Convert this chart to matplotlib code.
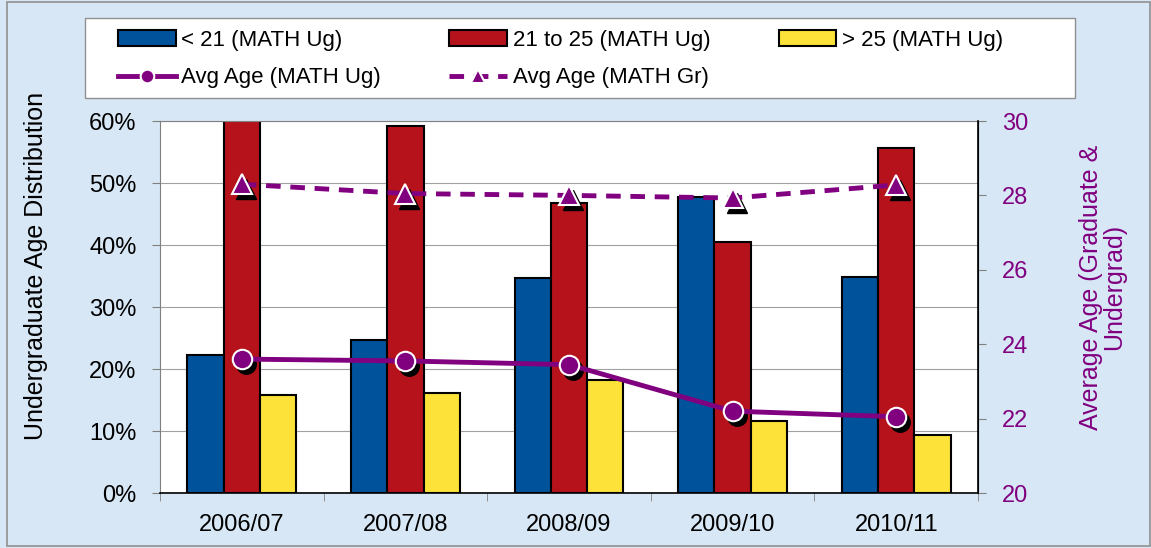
import matplotlib
matplotlib.use("Agg")
import matplotlib.pyplot as plt
import matplotlib.transforms as mtransforms
from matplotlib.patches import Rectangle
import numpy as np

plt.rcParams['font.family'] = ['Liberation Sans', 'DejaVu Sans']

years = ['2006/07', '2007/08', '2008/09', '2009/10', '2010/11']
under_21 = [22.3, 24.7, 34.7, 47.7, 34.8]
age_21_25 = [62.0, 59.2, 46.8, 40.5, 55.6]
over_25 = [15.8, 16.1, 18.2, 11.6, 9.4]
avg_ug = [23.6, 23.55, 23.45, 22.2, 22.05]
avg_gr = [28.3, 28.05, 28.0, 27.93, 28.28]

purple = '#800080'
bg = '#d8e7f5'
W, H = 1151, 548

fig = plt.figure(figsize=(W / 100, H / 100), dpi=100, facecolor=bg)

# outer chart border
fig.patches.append(Rectangle((7 / W, 2 / H), 1143 / W, 544 / H, transform=fig.transFigure,
                             facecolor='none', edgecolor='#909090', linewidth=1.2))
# legend box
fig.patches.append(Rectangle((85 / W, 1 - 98 / H), 990 / W, 80 / H, transform=fig.transFigure,
                             facecolor='white', edgecolor='#909090', linewidth=1.0))

ax = fig.add_axes([160 / W, 55 / H, 818 / W, 372 / H])
ax.set_facecolor('white')

x = np.arange(len(years))
w = 0.222
ax.bar(x - w, under_21, w, color='#00529b', edgecolor='black', linewidth=1.5,
       label='< 21 (MATH Ug)', zorder=2)
ax.bar(x, age_21_25, w, color='#b5121b', edgecolor='black', linewidth=1.5,
       label='21 to 25 (MATH Ug)', zorder=2)
ax.bar(x + w, over_25, w, color='#fde23a', edgecolor='black', linewidth=1.5,
       label='> 25 (MATH Ug)', zorder=2)

ax.set_xlim(-0.5, len(years) - 0.5)
ax.set_ylim(0, 60)
ax.set_yticks(np.arange(0, 61, 10))
ax.set_yticklabels([f'{v}%' for v in range(0, 61, 10)])
ax.yaxis.grid(True, color='#a0a0a0', linewidth=0.8, zorder=0)
ax.set_axisbelow(True)
ax.set_xticks(x)
ax.set_xticklabels(years)
ax.set_xticks(np.arange(-0.5, len(years), 1), minor=True)
ax.tick_params(axis='x', which='major', length=0, labelsize=17, pad=15)
ax.tick_params(axis='x', which='minor', length=6, color='#808080')
ax.tick_params(axis='y', labelsize=17, length=6, color='#808080', pad=11)
ax.set_ylabel('Undergraduate Age Distribution', fontsize=18)
ax.yaxis.set_label_coords(-0.137, 0.61)
for s in ['left', 'top']:
    ax.spines[s].set_color('#808080')
ax.spines['bottom'].set_color('black')
ax.spines['bottom'].set_linewidth(1.2)

ax2 = ax.twinx()
ax2.set_ylim(20, 30)
ax2.set_yticks(np.arange(20, 31, 2))
ax2.tick_params(axis='y', labelsize=17, labelcolor=purple, color='#808080', length=6, pad=11)
ax2.set_ylabel('Average Age (Graduate &\nUndergrad)', fontsize=18, color=purple,
               linespacing=1.0)
ax2.yaxis.set_label_coords(1.123, 0.554)
ax2.spines['right'].set_color('black')
ax2.spines['right'].set_linewidth(1.2)
for s in ['left', 'top', 'bottom']:
    ax2.spines[s].set_visible(False)

# black drop shadows under the markers
shadow = mtransforms.offset_copy(ax2.transData, fig=fig, x=4, y=-5, units='dots')
ax2.plot(x, avg_ug, linestyle='none', marker='o', markersize=14, color='black',
         transform=shadow, zorder=3)
ax2.plot(x, avg_gr, linestyle='none', marker='^', markersize=14, color='black',
         transform=shadow, zorder=3)

l_ug, = ax2.plot(x, avg_ug, color=purple, linewidth=3.5, marker='o', markersize=14,
                 markerfacecolor=purple, markeredgecolor='white', markeredgewidth=1.5,
                 label='Avg Age (MATH Ug)', zorder=4)
l_gr, = ax2.plot(x, avg_gr, color=purple, linewidth=3.5, linestyle=(0, (3, 2)),
                 marker='^', markersize=14, markerfacecolor=purple,
                 markeredgecolor='white', markeredgewidth=1.5,
                 label='Avg Age (MATH Gr)', zorder=4)

bars = ax.containers
handles = [bars[0], l_ug, bars[1], l_gr, bars[2]]
labels = [h.get_label() for h in handles]
leg = fig.legend(handles, labels, ncol=3, loc='center left',
                 bbox_to_anchor=(118 / W, 1 - 59 / H, 885 / W, 0.0), mode='expand',
                 fontsize=16, frameon=False, borderpad=0, borderaxespad=0,
                 handlelength=2.6, handletextpad=0.25,
                 labelspacing=0.75, markerscale=0.7)

fig.savefig('out.png', dpi=100, facecolor=bg)
